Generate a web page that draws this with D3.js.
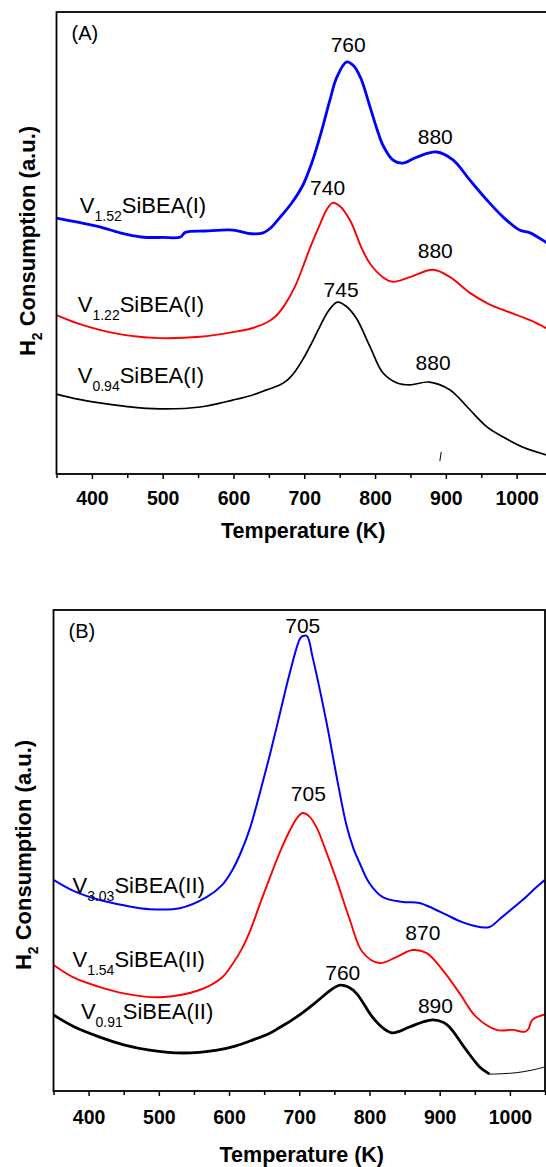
<!DOCTYPE html>
<html>
<head>
<meta charset="utf-8">
<script src="https://cdn.jsdelivr.net/npm/d3@7"></script>
<style>
    body { margin: 0; background: #fff; }
    svg { display: block; font-family: "Liberation Sans", Arial, sans-serif; }
</style>
</head>
<body>
<svg id="chart" width="546" height="1167"></svg>
<script>
// H2-TPR profiles, [temperature K, signal a.u.]
const v152A = [[350,55.4],[380,54.5],[411,53.5],[440,52.2],[470,51.3],[500,51.2],[525,51.3],[532,52.3],[560,52.6],[600,52.8],[625,52.0],[642,52.2],[652,53.2],[666,55.6],[682,58.6],[698,62.5],[711,67.5],[724,74.0],[736,80.8],[746,85.9],[760,89.2],[770,88.3],[780,85.6],[793,79.4],[803,74.5],[811,71.2],[825,68.0],[839,67.3],[859,68.6],[887,69.7],[910,68.0],[934,63.6],[958,59.3],[981,55.6],[1004,52.8],[1019,52.2],[1041,50.2],[1045,49.8]];
const v122A = [[350,34.4],[380,32.6],[411,31.2],[450,30.0],[496,29.4],[553,29.7],[599,30.7],[625,31.5],[647,32.8],[660,34.2],[672,36.5],[687,40.6],[698,44.8],[708,48.9],[722,54.0],[732,57.3],[740,58.7],[750,58.0],[765,54.8],[781,48.9],[793,45.5],[811,42.6],[825,41.6],[849,42.6],[882,44.2],[906,42.6],[934,39.2],[958,37.0],[981,35.5],[1019,33.3],[1045,31.3]];
const v094A = [[350,17.3],[380,16.2],[411,15.4],[450,14.6],[496,14.1],[553,14.5],[599,16.0],[625,17.0],[647,18.2],[666,19.3],[676,20.3],[687,22.2],[698,24.8],[710,28.2],[722,31.9],[735,35.5],[747,37.2],[760,36.2],[774,33.6],[793,27.5],[811,21.9],[831,19.7],[849,19.3],[877,19.9],[906,18.2],[920,16.2],[934,13.9],[958,10.2],[981,8.0],[1009,5.8],[1045,4.0]];
const markA = [[891.5,2.8],[893.5,4.8]];

const v303B = [[350,43.9],[380,41.5],[416,39.7],[450,38.6],[487,37.8],[530,38.0],[568,40.3],[590,42.8],[605,46.0],[618,50.0],[630,54.7],[644,62.0],[658,69.8],[672,78.2],[686,86.6],[701,94.0],[705,94.6],[711,94.6],[719,90.2],[739,76.5],[755,64.0],[767,55.4],[777,50.5],[786,47.4],[800,43.2],[819,40.3],[847,39.3],[871,39.1],[890,38.0],[910,36.6],[932,35.1],[957,34.1],[971,34.1],[989,36.2],[1018,39.7],[1038,42.4],[1050,43.9]];
const v154B = [[350,26.2],[380,23.5],[416,21.6],[450,20.3],[501,19.5],[558,21.0],[590,23.6],[605,26.4],[618,29.5],[630,33.3],[644,38.9],[658,44.3],[672,49.5],[686,54.0],[697,56.8],[705,57.8],[715,57.0],[725,54.7],[737,50.3],[753,43.9],[772,35.6],[790,28.9],[814,26.6],[839,27.9],[861,29.3],[881,28.7],[904,25.2],[928,20.4],[952,15.4],[981,12.7],[1004,12.7],[1021,12.3],[1026,12.8],[1032,14.8],[1050,15.9]];
const v091B = [[350,15.8],[380,13.3],[416,11.2],[450,9.6],[487,8.5],[534,7.9],[583,8.5],[610,9.4],[630,10.4],[658,12.0],[672,13.2],[690,14.8],[705,16.3],[720,18.0],[733,19.6],[745,21.0],[758,22.0],[770,21.6],[782,20.2],[804,15.4],[820,13.0],[833,12.1],[857,13.3],[875,14.3],[890,14.8],[905,14.3],[914,13.3],[938,8.5],[957,5.0],[971,3.5]];
const v091Btail = [[971,3.5],[990,3.6],[1009,3.8],[1030,4.3],[1050,5.0]];

// peak annotations [T, signal, text]
const peaksA = [[762,91.3,"760"],[885,71.4,"880"],[733,60.4,"740"],[885,46.8,"880"],[752,38.3,"745"],[882,22.5,"880"]];
const peaksB = [[705,95.2,"705"],[713,60.3,"705"],[876,31.4,"870"],[762,23.1,"760"],[894,16.2,"890"]];

// sample names [T, signal, V content, suffix]
const namesA = [[383,56.5,"1.52","SiBEA(I)"],[380,35.1,"1.22","SiBEA(I)"],[380,19.7,"0.94","SiBEA(I)"]];
const namesB = [[377,41.2,"3.03","SiBEA(II)"],[377,25.8,"1.54","SiBEA(II)"],[389,15.0,"0.91","SiBEA(II)"]];

const majorTicks = [400, 500, 600, 700, 800, 900, 1000];
const minorTicks = [350, 450, 550, 650, 750, 850, 950, 1050];

const panels = [
    {
        tag: "(A)", top: 12, bottom: 474, left: 56.5, right: 548.5, domain: [350, 1045],
        tickY: 31, titleY: 64, yTitleX: 35, yTitleMid: 241,
        series: [
            {pts: v152A, color: "#0000ff", w: 2.8},
            {pts: v122A, color: "#ff0000", w: 1.9},
            {pts: v094A, color: "#000000", w: 1.7},
            {pts: markA, color: "#000000", w: 1}
        ],
        peaks: peaksA, names: namesA
    },
    {
        tag: "(B)", top: 610, bottom: 1091, left: 53.5, right: 545, domain: [350, 1050],
        tickY: 33, titleY: 71, yTitleX: 31, yTitleMid: 855,
        series: [
            {pts: v303B, color: "#0000ff", w: 2},
            {pts: v154B, color: "#ff0000", w: 1.9},
            {pts: v091B, color: "#000000", w: 2.8},
            {pts: v091Btail, color: "#000000", w: 1}
        ],
        peaks: peaksB, names: namesB
    }
];

const svg = d3.select("#chart");

panels.forEach((p, i) => {
    const x = d3.scaleLinear().domain(p.domain).range([p.left, p.right]);
    const y = d3.scaleLinear().domain([0, 100]).range([p.bottom, p.top]);
    const g = svg.append("g");

    g.append("clipPath").attr("id", "clip" + i)
        .append("rect")
        .attr("x", p.left).attr("y", p.top)
        .attr("width", p.right - p.left).attr("height", p.bottom - p.top);

    const line = d3.line()
        .x(d => x(d[0]))
        .y(d => y(d[1]))
        .curve(d3.curveCatmullRom.alpha(0.5));

    g.append("g").attr("clip-path", `url(#clip${i})`)
        .selectAll("path")
        .data(p.series)
        .join("path")
        .attr("d", d => line(d.pts))
        .attr("fill", "none")
        .attr("stroke", d => d.color)
        .attr("stroke-width", d => d.w)
        .attr("stroke-linejoin", "round");

    // frame
    g.append("rect")
        .attr("x", p.left).attr("y", p.top)
        .attr("width", p.right - p.left).attr("height", p.bottom - p.top)
        .attr("fill", "none").attr("stroke", "#000").attr("stroke-width", 1.8);

    // x axis
    const minor = g.append("g").attr("transform", `translate(0,${p.bottom})`)
        .call(d3.axisBottom(x).tickValues(minorTicks).tickSize(4).tickSizeOuter(0).tickFormat(""));
    minor.select(".domain").remove();
    minor.selectAll("line").attr("stroke-width", 1.5);

    const major = g.append("g").attr("transform", `translate(0,${p.bottom})`)
        .call(d3.axisBottom(x).tickValues(majorTicks).tickSize(5).tickSizeOuter(0).tickFormat(d3.format("d")));
    major.select(".domain").remove();
    major.selectAll("line").attr("stroke-width", 1.5);
    major.selectAll("text")
        .attr("y", p.tickY).attr("dy", null)
        .attr("font-size", 19.5).attr("font-weight", "bold")
        .attr("font-family", "Liberation Sans, Arial, sans-serif")
        .attr("fill", "#000");

    g.append("text")
        .attr("x", (p.left + 546) / 2 + 2).attr("y", p.bottom + p.titleY)
        .attr("text-anchor", "middle")
        .attr("font-size", 21.5).attr("font-weight", "bold")
        .text("Temperature (K)");

    // y title
    const yt = g.append("text")
        .attr("transform", `translate(${p.yTitleX},${p.yTitleMid}) rotate(-90)`)
        .attr("text-anchor", "middle")
        .attr("font-size", 22).attr("font-weight", "bold");
    yt.append("tspan").text("H");
    yt.append("tspan").attr("font-size", 14).attr("dy", 7).text("2");
    yt.append("tspan").attr("dy", -7).text(" Consumption (a.u.)");

    // panel tag
    g.append("text")
        .attr("x", p.left + 15).attr("y", p.top + 28)
        .attr("font-size", 20)
        .text(p.tag);

    // peak labels
    g.selectAll(".peak")
        .data(p.peaks)
        .join("text")
        .attr("class", "peak")
        .attr("x", d => x(d[0])).attr("y", d => y(d[1]))
        .attr("text-anchor", "middle")
        .attr("font-size", 21)
        .text(d => d[2]);

    // sample names
    const nm = g.selectAll(".name")
        .data(p.names)
        .join("text")
        .attr("class", "name")
        .attr("x", d => x(d[0])).attr("y", d => y(d[1]))
        .attr("font-size", 22);
    nm.append("tspan").text("V");
    nm.append("tspan").attr("font-size", 14).attr("dy", 8).text(d => d[2]);
    nm.append("tspan").attr("dy", -8).text(d => d[3]);
});
</script>
</body>
</html>
